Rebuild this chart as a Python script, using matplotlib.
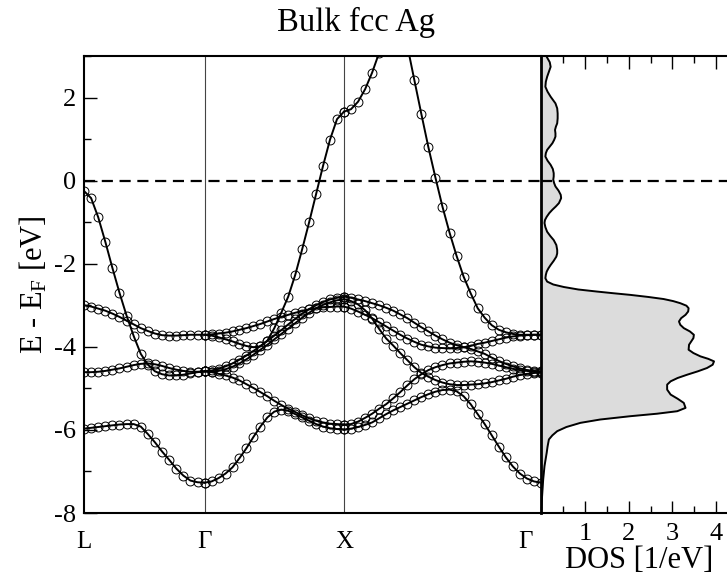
import numpy as np
import matplotlib
matplotlib.use('Agg')
import matplotlib.pyplot as plt
from matplotlib.transforms import ScaledTranslation
from matplotlib.ticker import MultipleLocator

plt.rcParams['font.family'] = ['Liberation Serif', 'DejaVu Serif']
plt.rcParams['mathtext.fontset'] = 'custom'
plt.rcParams['mathtext.rm'] = 'Liberation Serif'
plt.rcParams['mathtext.it'] = 'Liberation Serif:italic'
plt.rcParams['axes.unicode_minus'] = False

# ---------------- data ----------------
kpoint_labels = ['L', 'Γ', 'X', 'Γ']
kpoint_pos = [0.0, 0.866, 1.866, 3.280]

# L -> Gamma (18 points)
LG_s = [-0.25, -0.42, -0.88, -1.47, -2.10, -2.70, -3.25, -3.74, -4.17, -4.43, -4.59,
        -4.66, -4.69, -4.69, -4.67, -4.64, -4.61, -4.59]
LG_d1 = [-3.00, -3.03, -3.08, -3.13, -3.20, -3.28, -3.37, -3.46, -3.55, -3.62, -3.68,
         -3.72, -3.73, -3.73, -3.72, -3.71, -3.71, -3.71]
LG_d2 = [-4.61, -4.61, -4.60, -4.58, -4.55, -4.52, -4.48, -4.44, -4.41, -4.40, -4.42,
         -4.46, -4.51, -4.55, -4.58, -4.60, -4.60, -4.59]
LG_b = [-5.97, -5.95, -5.93, -5.91, -5.89, -5.87, -5.86, -5.86, -5.92, -6.10, -6.30,
        -6.52, -6.72, -6.93, -7.10, -7.22, -7.26, -7.27]

# Gamma -> X (21 points)
GX_b = [-7.27, -7.24, -7.16, -7.05, -6.90, -6.68, -6.44, -6.17, -5.92, -5.70, -5.56,
        -5.51, -5.54, -5.62, -5.70, -5.78, -5.86, -5.92, -5.96, -5.98, -5.99]
GX_dn = [-4.59, -4.61, -4.65, -4.69, -4.74, -4.81, -4.90, -4.99, -5.09, -5.19, -5.30,
         -5.40, -5.49, -5.57, -5.65, -5.72, -5.78, -5.82, -5.85, -5.86, -5.87]
GX_up1 = [-4.59, -4.57, -4.53, -4.47, -4.40, -4.31, -4.21, -4.10, -3.98, -3.86, -3.73,
          -3.60, -3.46, -3.33, -3.20, -3.09, -3.00, -2.92, -2.86, -2.82, -2.80]
GX_up2 = [-4.59, -4.60, -4.58, -4.54, -4.48, -4.40, -4.30, -4.19, -4.07, -3.95, -3.82,
          -3.69, -3.56, -3.43, -3.30, -3.18, -3.07, -2.99, -2.93, -2.88, -2.86]
GX_g = [-3.71, -3.70, -3.68, -3.66, -3.63, -3.59, -3.55, -3.50, -3.45, -3.39, -3.33,
        -3.28, -3.23, -3.18, -3.14, -3.10, -3.07, -3.05, -3.04, -3.03, -3.03]
GX_s = [-3.71, -3.73, -3.77, -3.82, -3.87, -3.93, -3.98, -4.01, -3.99, -3.85, -3.55,
        -3.18, -2.79, -2.27, -1.65, -1.00, -0.32, 0.36, 0.99, 1.48, 1.66]

# X -> Gamma (29 points)
XG_s = [1.66, 1.72, 1.90, 2.20, 2.60, 3.08, 3.55, 3.80, 3.70, 3.25, 2.42, 1.60, 0.80,
        0.07, -0.63, -1.25, -1.81, -2.31, -2.71, -3.07, -3.30, -3.48, -3.59, -3.65,
        -3.69, -3.71, -3.71, -3.71, -3.71]
XG_D = [-2.79, -2.82, -2.86, -2.90, -2.95, -3.00, -3.06, -3.13, -3.22, -3.31, -3.42,
        -3.53, -3.63, -3.73, -3.82, -3.90, -3.96, -4.01, -4.05, -4.11, -4.17, -4.26,
        -4.34, -4.41, -4.47, -4.52, -4.56, -4.58, -4.59]
XG_E = [-3.03, -3.08, -3.15, -3.23, -3.31, -3.41, -3.51, -3.61, -3.71, -3.80, -3.88,
        -3.95, -3.99, -4.02, -4.03, -4.04, -4.03, -4.01, -3.98, -3.93, -3.90, -3.86,
        -3.82, -3.78, -3.75, -3.73, -3.72, -3.71, -3.71]
XG_F = [-2.85, -2.90, -2.98, -3.12, -3.32, -3.57, -3.80, -3.97, -4.15, -4.32, -4.49,
        -4.63, -4.72, -4.80, -4.86, -4.90, -4.92, -4.92, -4.91, -4.90, -4.88, -4.85,
        -4.81, -4.77, -4.72, -4.68, -4.65, -4.63, -4.62]
XG_A = [-5.87, -5.86, -5.80, -5.71, -5.61, -5.49, -5.38, -5.24, -5.09, -4.93, -4.78,
        -4.66, -4.56, -4.49, -4.44, -4.40, -4.38, -4.36, -4.35, -4.36, -4.38, -4.41,
        -4.45, -4.49, -4.53, -4.56, -4.58, -4.60, -4.61]
XG_B = [-5.99, -5.97, -5.93, -5.88, -5.82, -5.72, -5.62, -5.53, -5.45, -5.37, -5.29,
        -5.21, -5.14, -5.08, -5.04, -5.03, -5.07, -5.19, -5.38, -5.62, -5.86, -6.13,
        -6.40, -6.66, -6.88, -7.05, -7.17, -7.24, -7.27]

# DOS (energy in eV, DOS in 1/eV)
dos_energy = [3.00, 2.85, 2.74, 2.62, 2.50, 2.38, 2.26, 2.14, 2.02, 1.86, 1.74, 1.62,
              1.50, 1.38, 1.30, 1.22, 1.14, 1.06, 0.98, 0.90, 0.82, 0.74, 0.66, 0.58,
              0.48, 0.38, 0.28, 0.18, 0.10, 0.02, -0.06, -0.14, -0.24, -0.34, -0.42,
              -0.54, -0.62, -0.70, -0.78, -0.87, -0.95, -1.02, -1.12, -1.23, -1.33,
              -1.43, -1.55, -1.67, -1.75, -1.83, -1.93, -2.03, -2.11, -2.19, -2.27,
              -2.35, -2.43, -2.50, -2.56, -2.62, -2.67, -2.71, -2.75, -2.80, -2.85,
              -2.90, -2.95, -3.01, -3.07, -3.15, -3.23, -3.31, -3.39, -3.47, -3.55,
              -3.63, -3.71, -3.79, -3.87, -3.95, -4.07, -4.15, -4.23, -4.29, -4.35,
              -4.43, -4.51, -4.59, -4.67, -4.75, -4.83, -4.91, -5.03, -5.15, -5.25,
              -5.35, -5.47, -5.55, -5.61, -5.67, -5.75, -5.83, -5.93, -6.03, -6.13,
              -6.23, -6.40, -6.55, -6.87, -7.19, -7.51, -8.00]
dos_value = [0.12, 0.20, 0.22, 0.18, 0.14, 0.11, 0.10, 0.15, 0.22, 0.33, 0.37, 0.38,
             0.38, 0.37, 0.34, 0.32, 0.33, 0.33, 0.30, 0.26, 0.20, 0.14, 0.11, 0.10,
             0.15, 0.22, 0.27, 0.29, 0.29, 0.28, 0.30, 0.33, 0.40, 0.45, 0.46,
             0.41, 0.34, 0.26, 0.19, 0.13, 0.09, 0.08, 0.10, 0.14, 0.21,
             0.29, 0.35, 0.37, 0.37, 0.35, 0.29, 0.22, 0.17, 0.13, 0.11,
             0.10, 0.14, 0.28, 0.52, 0.85, 1.28, 1.65, 2.04, 2.45, 2.80,
             3.02, 3.18, 3.32, 3.37, 3.36, 3.30, 3.20, 3.15, 3.18, 3.26,
             3.40, 3.49, 3.48, 3.43, 3.38, 3.37, 3.48, 3.64, 3.82, 3.95,
             3.92, 3.79, 3.58, 3.34, 3.12, 2.96, 2.88, 2.88, 2.96, 3.12,
             3.26, 3.30, 3.11, 2.65, 2.04, 1.35, 0.90, 0.58, 0.37, 0.26,
             0.18, 0.15, 0.13, 0.08, 0.05, 0.03, 0.00]

title = 'Bulk fcc Ag'
ylabel = r'E - E$_\mathrm{F}$ [eV]'
dos_label = 'DOS [1/eV]'

# ---------------- figure ----------------
W, H = 727, 577
fig = plt.figure(figsize=(W / 100, H / 100), dpi=100)

def frac(x0, y0, x1, y1):
    return [x0 / W, 1 - y1 / H, (x1 - x0) / W, (y1 - y0) / H]

ax = fig.add_axes(frac(84, 56, 541, 513))
ax2 = fig.add_axes(frac(541, 56, 749, 513))

segments = [
    (kpoint_pos[0], kpoint_pos[1], [LG_s, LG_d1, LG_d2, LG_b]),
    (kpoint_pos[1], kpoint_pos[2], [GX_b, GX_dn, GX_up1, GX_up2, GX_g, GX_s]),
    (kpoint_pos[2], kpoint_pos[3], [XG_s, XG_D, XG_E, XG_F, XG_A, XG_B]),
]

for x in kpoint_pos[1:3]:
    ax.axvline(x, color='#444444', lw=0.8, zorder=1)

for k0, k1, bands in segments:
    for band in bands:
        k = np.linspace(k0, k1, len(band))
        ax.plot(k, band, '-', color='black', lw=1.4, zorder=3)
        ax.plot(k, band, 'o', mfc='none', mec='black', ms=6.4, mew=0.7, zorder=4)

ax.axhline(0, color='black', lw=1.6, dashes=(5, 3), zorder=2)
ax.set_xlim(kpoint_pos[0], kpoint_pos[-1])
ax.set_ylim(-8, 3)
ax.set_xticks(kpoint_pos)
ax.set_xticklabels(kpoint_labels)
ax.tick_params(axis='x', length=0, pad=13, labelsize=18)
ax.yaxis.set_major_locator(MultipleLocator(2))
ax.yaxis.set_minor_locator(MultipleLocator(1))
ax.tick_params(axis='y', which='major', direction='in', length=9, width=1.0,
               labelsize=19, pad=6, right=False)
ax.tick_params(axis='y', which='minor', direction='in', length=5, width=1.0, right=False)
ax.set_ylabel(ylabel, fontsize=22, labelpad=3)
for s in ax.spines.values():
    s.set_linewidth(1.5)
ax.spines['right'].set_visible(False)

lbls = ax.get_xticklabels()
lbls[-1].set_transform(lbls[-1].get_transform() +
                       ScaledTranslation(-11 / 72, 0, fig.dpi_scale_trans))

# DOS panel
ax2.fill_betweenx(dos_energy, 0, dos_value, color='#dcdcdc', lw=0, zorder=1)
ax2.plot(dos_value, dos_energy, color='black', lw=1.4, zorder=3)
ax2.axhline(0, color='black', lw=1.6, dashes=(5, 3), zorder=2)
ax2.set_ylim(-8, 3)
ax2.set_xlim(0, 208 / 43.8)
ax2.set_yticks([])
ax2.xaxis.set_minor_locator(MultipleLocator(0.5))
ax2.set_xticks([1, 2, 3, 4])
ax2.tick_params(axis='x', which='major', direction='in', length=9, width=1.0,
                top=True, labelsize=19, pad=7)
ax2.tick_params(axis='x', which='minor', direction='in', length=5, width=1.0, top=True)
ax2.set_xlabel(dos_label, fontsize=22)
ax2.xaxis.set_label_coords((639 - 541) / 208, -(560 - 513) / 457)
ax2.xaxis.label.set_va('center')
for s in ax2.spines.values():
    s.set_linewidth(1.5)
ax2.spines['left'].set_linewidth(2.0)

fig.text(356 / W, 1 - 22 / H, title, ha='center', va='center', fontsize=23.5)

fig.savefig('out.png', dpi=100)
